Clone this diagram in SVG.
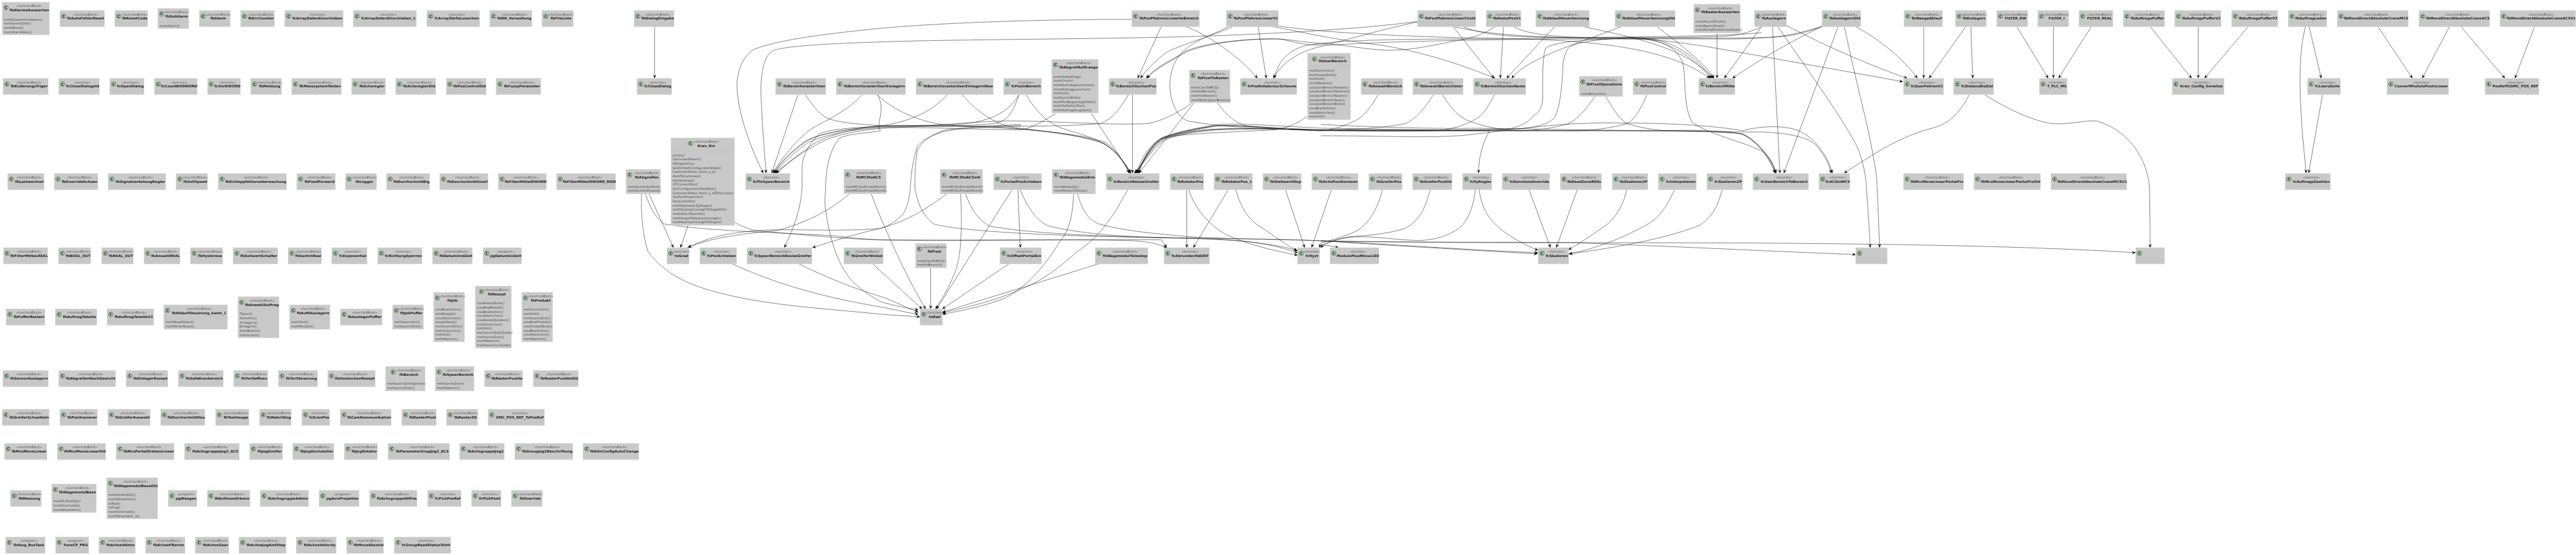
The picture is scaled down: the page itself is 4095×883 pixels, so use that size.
<svg xmlns="http://www.w3.org/2000/svg" width="4095" height="883" viewBox="0 0 4095 883">
<style>
text{font-family:"DejaVu Sans","Liberation Sans",sans-serif}
#nodes rect{fill:#c9c9c9;stroke:#dcdcdc;stroke-width:.5}
#nodes path{fill:none;stroke:#b9b9b9;stroke-width:.4}
.s{font-size:5px;font-style:italic;fill:#555;text-anchor:middle}
.n{font-size:5.6px;font-weight:bold;fill:#2a2a2a;text-anchor:middle}
.m{font-size:5px;fill:#444}
.c{fill:#add1b2;stroke:#2c5e38;stroke-width:.6}
.k{font-size:5.6px;font-weight:bold;fill:#111;text-anchor:middle}
#connectors path{fill:none;stroke:#1a1a1a;stroke-width:.55;marker-end:url(#a)}
</style>
<defs>
<marker id="a" markerUnits="userSpaceOnUse" markerWidth="7" markerHeight="7" refX="6" refY="3.5" orient="auto"><polygon points="0,.9 6,3.5 0,6.1 2.4,3.5" fill="#000"/></marker>
<g id="i"><circle class="c" cy="9" r="3.7"/><text class="k" y="11">C</text></g>
</defs>
<g id="connectors">
<path d="M1040.6 42.7V124.7"/>
<path d="M1799 30.7C1650 31 1500 36 1400 45C1330 52 1240 62 1200 78C1175 92 1170 125 1172 145C1175 190 1200 250 1213.4 275.5"/>
<path d="M2253.6 34C2170 46 2000 56 1846 59.3S1500 63 1400 66.7C1300 70 1240 74 1226.8 81.7C1212 92 1209 125 1209.8 150C1211 190 1215 240 1217.8 275.5"/>
<path d="M2253.6 35C2180 50 2130 68 2100 71.7C2060 72 2050 62 2025 61.7C1960 62 1900 72 1882 83.3C1860 97 1835 108 1822 124.5"/>
<path d="M2377 42.3C2350 60 2330 62 2305 66.7C2270 74 2240 80 2207 80C2170 79 2130 70 2100 69C2060 66 2050 62 2025 62C1960 62 1900 74 1882 85C1860 98 1835 110 1824 124.5"/>
<path d="M1960 42.3C1925 58 1880 70 1855 83C1838 95 1822 112 1813 124.5"/>
<path d="M1846 42.3L1808.5 124.5"/>
<path d="M1885 42.3C1920 55 1970 90 1999 124.5"/>
<path d="M2000 42.3L2013 124.5"/>
<path d="M2800 52C2720 60 2520 58 2400 62C2250 62 2120 62 2070 74C2040 85 2030 105 2026 124.5"/>
<path d="M2896 42C2850 56 2830 60 2760 62C2600 62 2300 60 2110 72C2060 80 2035 105 2024 124.5"/>
<path d="M1953 42.3C1925 56 1900 65 1887 76.7C1865 92 1858 120 1860 143C1863 170 1875 190 1891 193C1950 204 2030 206 2100 206.7C2200 208 2300 208 2368 208C2358 225 2350 250 2350.5 275.5"/>
<path d="M2009 40C2050 46 2090 58 2180 70C2230 76 2290 90 2377 124.5"/>
<path d="M2011 38C2060 46 2120 54 2320 60C2500 62 2640 68 2718 124.5"/>
<path d="M2325 42.3C2370 60 2420 60 2591 60C2650 60 2690 90 2720 124.5"/>
<path d="M2310 42.3L2375 124.5"/>
<path d="M2390 42.3L2385 124.5"/>
<path d="M2406 42.3C2440 62 2530 60 2600 60C2660 60 2695 90 2722 124.5"/>
<path d="M2471.5 42.3L2395 124.5"/>
<path d="M2517 42.3C2590 58 2680 75 2724 124.5"/>
<path d="M2577.7 42.3C2500 72 2430 92 2403 124.5"/>
<path d="M2634 42.3C2670 70 2710 100 2725 124.5"/>
<path d="M2729.5 52.7V124.5"/>
<path d="M2800 42.3L2741 124.5"/>
<path d="M2896.4 42C2860 60 2820 80 2754 124.5"/>
<path d="M2800 43.3C2770 56 2750 58 2725 58.3C2680 60 2630 60 2591 60C2540 62 2500 68 2493 76.7C2486 88 2484 100 2484 116.7C2482 150 2478 175 2471.5 186.7C2460 200 2430 205 2403.6 205C2300 208 2200 208 2100 208C2040 207 1970 198 1936 200C1900 204 1860 214 1846 220C1825 232 1815 252 1806 275.5"/>
<path d="M2896.4 42.3C2860 56 2840 58 2818 59.3C2740 62 2660 60 2591 61C2530 62 2470 66 2457 76.7C2452 90 2452 130 2452.6 156.7C2451 172 2446 180 2439 183C2425 200 2405 205 2386 206.7C2300 208 2200 205 2100 204C2030 200 1970 196 1936 198C1900 204 1860 212 1846 220C1826 234 1818 254 1810 275.5"/>
<path d="M2310 42.3C2370 56 2440 60 2600 62C2660 64 2720 75 2800 89.3C2880 104 2960 118 3025 130"/>
<path d="M2839 40C2880 62 2960 100 3032 124.5"/>
<path d="M2950 42.3C3000 70 3030 100 3048 124.5"/>
<path d="M3058 42.3V124.5"/>
<path d="M3125 42.3L3066.5 124.5"/>
<path d="M3133 42.3L3136 124.5"/>
<path d="M3206 42.3L3256 124.5"/>
<path d="M3264.3 42.3V124.5"/>
<path d="M3324.5 42.3L3272.5 124.5"/>
<path d="M3418 42.3L3484 124.5"/>
<path d="M3494.5 42.3V124.5"/>
<path d="M3574 42.3L3504.5 124.5"/>
<path d="M3665 42.3C3655 80 3655 130 3658 180C3660 220 3664 250 3666 275.5"/>
<path d="M3670.7 42.3L3690 124.5"/>
<path d="M3692 150.7L3670 275.5"/>
<path d="M3780 42.3L3835 124.5"/>
<path d="M3894 42.3L3850.5 124.5"/>
<path d="M3912 42.3L3982 124.5"/>
<path d="M4029 42.3L3998 124.5"/>
<path d="M2817.6 42.3L2829.5 275.5"/>
<path d="M2922 42.3L2835.7 275.5"/>
<path d="M3130.5 150.7C3115 180 3100 195 3075 203C3030 215 3000 230 2931.7 275.5"/>
<path d="M3155 150.7C3210 185 3250 197 3269 197C3300 197 3320 190 3335 193C3390 210 3415 260 3417 300C3418 350 3418 375 3418 394"/>
<path d="M2826 42.3C2880 120 2930 190 2952 233C2962 255 2967 285 2967 300C2970 340 2972 370 2973 394"/>
<path d="M2932 42.3C2950 130 2970 200 2978 250C2982 270 2984 285 2984 300C2986 340 2987 370 2988 394"/>
<path d="M1268.3 150.7L1226.8 275.5"/>
<path d="M1370.5 150.7C1340 185 1290 200 1280 213C1260 230 1240 255 1229 275.5"/>
<path d="M1505.8 150.7C1480 180 1440 195 1400 200C1350 205 1300 212 1280 225C1260 238 1240 258 1230 275.5"/>
<path d="M1620 150.7C1610 180 1600 195 1578.6 196.7C1520 202 1450 200 1400 201.7C1340 205 1290 215 1275 230C1258 242 1240 260 1231 275.5"/>
<path d="M1677.7 180.7C1660 192 1640 204 1623 206.7C1550 206 1470 202 1400 203C1350 206 1295 218 1280 230C1262 243 1244 260 1232 275.5"/>
<path d="M1793.7 150.7C1780 175 1765 192 1748 196.7C1650 205 1500 198 1400 200C1340 206 1300 222 1285 235C1268 247 1248 262 1233 275.5"/>
<path d="M1895.5 164C1870 180 1850 192 1824 196.7C1750 200 1650 190 1578.6 193C1520 196 1460 202 1422 203C1370 205 1320 215 1295 232C1270 245 1250 262 1234 275.5"/>
<path d="M1280.4 150.7C1295 172 1305 185 1320.5 190C1345 197 1375 198 1400 200C1470 202 1550 200 1601 203.3C1660 208 1730 215 1757 226.7C1775 238 1785 255 1795 275.5"/>
<path d="M1394.6 150.7C1420 175 1455 190 1489 196.7C1530 202 1570 202 1601 204C1660 208 1725 216 1755 228C1775 240 1785 256 1796 275.5"/>
<path d="M1530 150.7C1550 175 1580 198 1614 203.3C1660 208 1725 216 1755 229C1775 240 1787 258 1797 275.5"/>
<path d="M1631 150.7C1645 175 1665 195 1686 203.3C1710 211 1740 219 1757 230C1775 242 1788 258 1798 275.5"/>
<path d="M1735 180.7L1797.5 275.5"/>
<path d="M1800.4 150.7V275.5"/>
<path d="M1897.8 164L1810.7 275.5"/>
<path d="M1935.7 164C1950 185 1965 195 1980 200C2020 205 2060 206 2100 206.7C2250 206 2450 208 2636 208C2700 208 2750 210 2770 213C2795 225 2815 250 2824 275.5"/>
<path d="M2078.6 185C2060 198 2045 204 2025 206.7C1960 210 1880 212 1846 220C1828 232 1818 252 1808 275.5"/>
<path d="M2190.6 150.7C2180 170 2170 182 2158 190C2140 200 2120 206 2100 208C2030 206 1960 198 1936 200C1900 204 1860 214 1846 221C1828 234 1818 254 1809 275.5"/>
<path d="M2278.6 150.7C2265 172 2250 190 2234 196.7C2190 205 2150 206 2100 206.7C2030 204 1960 198 1936 200C1900 206 1860 216 1846 222C1828 234 1818 254 1807 275.5"/>
<path d="M2293 150.7C2305 170 2320 188 2336.6 193C2360 202 2390 207 2412.5 208C2480 208 2560 208 2636 208C2700 206 2750 208 2770 214C2795 226 2815 252 2823 275.5"/>
<path d="M2376 150.7C2365 170 2358 182 2350 186.7C2330 200 2305 207 2278.6 208C2200 210 2130 208 2060 206C2000 204 1950 204 1920 206C1880 210 1855 216 1846 222C1830 234 1820 254 1805 275.5"/>
<path d="M2535 154C2520 175 2508 190 2493 196.7C2470 204 2440 208 2412.5 208C2300 208 2200 208 2100 207C2000 204 1950 204 1920 207C1880 211 1856 218 1846 224C1830 236 1820 256 1804 275.5"/>
<path d="M2553 154C2565 175 2575 190 2586.6 196.7C2610 204 2635 208 2658 208C2700 209 2750 210 2770 213C2796 226 2812 252 2822 275.5"/>
<path d="M2618 150.7C2608 175 2598 190 2586.6 196.7C2560 204 2530 208 2502 208C2400 208 2200 208 2100 207C2000 204 1950 205 1920 208C1880 212 1858 219 1848 225C1832 237 1822 256 1803 275.5"/>
<path d="M2100 216C2200 216 2280 220 2330 215C2420 205 2490 193 2580 196C2660 195 2740 202 2770 208C2800 200 2830 200 2850 205C2880 212 2905 245 2913 275.5"/>
<path d="M2100 198C2200 203 2280 205 2350 204C2500 206 2700 210 2800 210C2850 212 2880 220 2890 235C2902 250 2908 262 2911 275.5"/>
<path d="M2591 60C2650 62 2670 80 2676 105C2680 130 2676 170 2690 195C2720 215 2770 225 2800 240C2815 250 2820 262 2822 275.5"/>
<path d="M1620 150.7C1600 185 1560 198 1500 199C1440 200 1330 200 1302.6 213C1285 230 1275 250 1275 266.7C1275 280 1275 290 1275 300C1272 340 1258 370 1246.9 394"/>
<path d="M1394.6 150.7C1410 175 1390 200 1400 208C1380 212 1350 212 1334 220C1318 240 1312.5 270 1312.5 300C1311 320 1311 325 1312.5 333C1320 395 1340 435 1360.7 453C1375 466 1390 474 1400 480C1420 486 1440 490 1460 493"/>
<path d="M1623 200C1570 202 1520 204 1498 210C1475 218 1465 224 1458 233C1450 260 1448 280 1447 300C1445 320 1442 330 1436 340C1425 352 1412 360 1400 363.3C1360 372 1320 385 1291.5 394"/>
<path d="M1623 198C1570 200 1530 203 1503 206.7C1480 214 1465 225 1458 240C1455 260 1454 280 1454.5 300C1460 330 1470 345 1485 356.7C1540 370 1700 376 1846 378C1950 380 2030 380 2100 383C2200 390 2340 398 2444 404"/>
<path d="M1350.4 308.3C1320 335 1280 355 1235.7 366.7C1180 372 1130 378 1092.9 394"/>
<path d="M1505 308.3C1470 335 1440 352 1400 363.3C1330 370 1240 362 1191 368C1150 372 1120 380 1094 394"/>
<path d="M1025.9 308.3C1035 335 1045 350 1057 356.7C1130 368 1240 370 1325 375C1350 378 1380 381 1400 381.7C1550 383 1750 380 1846 381.7L1855 394"/>
<path d="M1167.8 353.3C1178 360 1190 364 1200 366.7C1280 374 1340 380 1400 381.7C1550 384 1720 380 1800 383C1825 384 1840 388 1855 394"/>
<path d="M1031.7 308.3L1070.5 394"/>
<path d="M1093.7 358.7L1081.7 394"/>
<path d="M1020 308.3C1018 350 1025 385 1030 400C1060 440 1100 455 1146.4 466.7C1230 488 1330 492 1400 500C1430 502 1445 503 1462.5 504"/>
<path d="M1163 419.3C1240 455 1320 475 1400 488.3C1425 493 1440 497 1460 500"/>
<path d="M1269 419.3C1310 440 1360 460 1400 471.7C1425 480 1440 490 1460 496.7"/>
<path d="M1386.6 419.3L1466 491.7"/>
<path d="M1479.5 426.7V491.5"/>
<path d="M1385 308.3C1400 350 1440 440 1471.4 491.5"/>
<path d="M1527 308.3C1530 360 1528 410 1518 433C1510 455 1498 475 1487 491.5"/>
<path d="M1610 300L1489 491.5"/>
<path d="M1618 300L1622 394"/>
<path d="M1534.8 308.3C1545 335 1555 350 1574 360C1640 372 1760 376 1846 378.3C1930 380 2000 382 2062 398"/>
<path d="M1621 300C1635 335 1650 352 1668 360C1730 374 1790 376 1846 378C1960 380 2000 382 2063 402"/>
<path d="M1706.7 308.3C1705 345 1700 365 1685.7 383C1660 425 1630 460 1592 476.7C1560 488 1525 495 1498 500"/>
<path d="M1713 308.3C1720 335 1730 350 1748 356.7C1790 368 1840 372 1891 376.7C1950 380 2000 380 2100 383C2200 388 2340 398 2445 402"/>
<path d="M1793.7 300C1770 345 1745 380 1712.5 400C1680 430 1650 450 1623 460C1580 480 1530 490 1498 498"/>
<path d="M1604.5 419.3L1498 491.5"/>
<path d="M1748 419.3L1498 496.7"/>
<path d="M1886.6 300V394"/>
<path d="M1889 300C1900 335 1925 360 1949 373C1985 390 2030 400 2063 406"/>
<path d="M1953.5 300L1897 394"/>
<path d="M1963.8 300C1972 330 1985 350 2002.6 360C2025 375 2045 390 2062.5 399.3"/>
<path d="M2042.8 300L2074 394"/>
<path d="M2117 300L2085 394"/>
<path d="M2198 300C2190 335 2175 355 2158 366.7C2140 376 2115 382 2100 386.7L2097 394"/>
<path d="M2274 300C2265 335 2255 352 2234 363C2210 372 2170 375 2145 376.7C2125 380 2110 385 2099 394"/>
<path d="M2345.5 300C2342 335 2330 358 2314 366.7C2295 378 2275 382 2256 382.7C2220 382 2190 376 2158 376.7C2130 378 2115 385 2100 390C2110 390 2120 392 2127.7 394" />
<path d="M2351 300C2355 330 2365 345 2377 356.7C2395 375 2425 390 2445 398.3"/>
<path d="M2430 300L2464.7 394"/>
<path d="M2508 300L2474 394"/>
<path d="M2586.6 300C2580 330 2565 352 2546 363C2525 378 2510 388 2493 397.3"/>
<path d="M2662.5 300C2650 330 2635 350 2613 360C2580 378 2540 395 2494 404"/>
<path d="M2738 300C2730 335 2715 352 2698 360C2640 382 2560 395 2494 404"/>
<path d="M2100 383C2250 386 2400 386 2502 386C2600 390 2700 394 2800 398.7C2850 401 2900 403 2950 405"/>
<path d="M2100 384C2300 386 2600 386 2800 386.7C2950 388 3200 390 3395 402"/>
</g>
<g id="nodes">
<g id="fbAlarmeAuswerten" transform="translate(3.6 3.3)"><rect width="75" height="52.3"/><path d="M0 19H75M0 22.3H75"/><use href="#i" x="6"/><text class="s" x="43" y="8">«functionBlock»</text><text class="n" x="43" y="14.7">fbAlarmeAuswerten</text><text class="m" x="2.7" y="29.3">methZusammenfassen()</text><text class="m" x="2.7" y="36">methLeereZeile()</text><text class="m" x="2.7" y="42.6">methReset()</text><text class="m" x="2.7" y="49.3">methAlarmAktiv()</text></g>
<g id="fbAutoFehlerReset" transform="translate(95.1 16.7)"><rect width="71" height="26"/><path d="M0 18.3H71M0 21.7H71"/><use href="#i" x="6"/><text class="s" x="41" y="8">«functionBlock»</text><text class="n" x="41" y="14.7">fbAutoFehlerReset</text></g>
<g id="fbResetCode" transform="translate(182.6 16.7)"><rect width="52.2" height="26"/><path d="M0 18.3H52.2M0 21.7H52.2"/><use href="#i" x="6"/><text class="s" x="31.6" y="8">«functionBlock»</text><text class="n" x="31.6" y="14.7">fbResetCode</text></g>
<g id="fbSetAlarm" transform="translate(250.9 13.3)"><rect width="49.1" height="32.3"/><path d="M0 19H49.1M0 22.3H49.1"/><use href="#i" x="6"/><text class="s" x="30" y="8">«functionBlock»</text><text class="n" x="30" y="14.7">fbSetAlarm</text><text class="m" x="2.7" y="29.3">methAlarm()</text></g>
<g id="fbAlarm" transform="translate(316.9 16.7)"><rect width="49.1" height="26"/><path d="M0 18.3H49.1M0 21.7H49.1"/><use href="#i" x="6"/><text class="s" x="30" y="8">«functionBlock»</text><text class="n" x="30" y="14.7">fbAlarm</text></g>
<g id="fbErrCounter" transform="translate(382.6 16.7)"><rect width="53.6" height="26"/><path d="M0 18.3H53.6M0 21.7H53.6"/><use href="#i" x="6"/><text class="s" x="32.3" y="8">«functionBlock»</text><text class="n" x="32.3" y="14.7">fbErrCounter</text></g>
<g id="fcArrayDatenEinschieben" transform="translate(452.7 16.7)"><rect width="92.9" height="26"/><path d="M0 18.3H92.9M0 21.7H92.9"/><use href="#i" x="6"/><text class="s" x="52" y="8">«function»</text><text class="n" x="52" y="14.7">fcArrayDatenEinschieben</text></g>
<g id="fcArrayDatenEinschieben_1" transform="translate(561.6 16.7)"><rect width="100.4" height="26"/><path d="M0 18.3H100.4M0 21.7H100.4"/><use href="#i" x="6"/><text class="s" x="55.7" y="8">«function»</text><text class="n" x="55.7" y="14.7">fcArrayDatenEinschieben_1</text></g>
<g id="fcArrayStelleLoeschen" transform="translate(678.6 16.7)"><rect width="83.9" height="26"/><path d="M0 18.3H83.9M0 21.7H83.9"/><use href="#i" x="6"/><text class="s" x="47.5" y="8">«function»</text><text class="n" x="47.5" y="14.7">fcArrayStelleLoeschen</text></g>
<g id="fbRN_Verwaltung" transform="translate(778.6 16.7)"><rect width="67" height="26"/><path d="M0 18.3H67M0 21.7H67"/><use href="#i" x="6"/><text class="s" x="39" y="8">«functionBlock»</text><text class="n" x="39" y="14.7">fbRN_Verwaltung</text></g>
<g id="fbFileListe" transform="translate(861.6 16.7)"><rect width="49.6" height="26"/><path d="M0 18.3H49.6M0 21.7H49.6"/><use href="#i" x="6"/><text class="s" x="30.3" y="8">«functionBlock»</text><text class="n" x="30.3" y="14.7">fbFileListe</text></g>
<g id="fbDialogEingabe" transform="translate(1008 16.7)"><rect width="63.8" height="26"/><path d="M0 18.3H63.8M0 21.7H63.8"/><use href="#i" x="6"/><text class="s" x="37.4" y="8">«functionBlock»</text><text class="n" x="37.4" y="14.7">fbDialogEingabe</text></g>
<g id="fbPzuPfahrenLinearImBereich" transform="translate(1799.1 16.7)"><rect width="107.6" height="26"/><path d="M0 18.3H107.6M0 21.7H107.6"/><use href="#i" x="6"/><text class="s" x="59.3" y="8">«functionBlock»</text><text class="n" x="59.3" y="14.7">fbPzuPfahrenLinearImBereich</text></g>
<g id="fbPzuPfahrenLinearV1" transform="translate(1949.5 16.7)"><rect width="82.6" height="26"/><path d="M0 18.3H82.6M0 21.7H82.6"/><use href="#i" x="6"/><text class="s" x="46.8" y="8">«functionBlock»</text><text class="n" x="46.8" y="14.7">fbPzuPfahrenLinearV1</text></g>
<g id="fbPzuPfahrenLinearV1old" transform="translate(2253.6 16.7)"><rect width="92.4" height="26"/><path d="M0 18.3H92.4M0 21.7H92.4"/><use href="#i" x="6"/><text class="s" x="51.7" y="8">«functionBlock»</text><text class="n" x="51.7" y="14.7">fbPzuPfahrenLinearV1old</text></g>
<g id="fbHomePosV1" transform="translate(2362.5 16.7)"><rect width="55.4" height="26"/><path d="M0 18.3H55.4M0 21.7H55.4"/><use href="#i" x="6"/><text class="s" x="33.2" y="8">«functionBlock»</text><text class="n" x="33.2" y="14.7">fbHomePosV1</text></g>
<g id="fbAblaufHeuerkennung" transform="translate(2441.5 16.7)"><rect width="84.8" height="26"/><path d="M0 18.3H84.8M0 21.7H84.8"/><use href="#i" x="6"/><text class="s" x="47.9" y="8">«functionBlock»</text><text class="n" x="47.9" y="14.7">fbAblaufHeuerkennung</text></g>
<g id="fbAblaufHeuerkennungOld" transform="translate(2567.4 16.7)"><rect width="95.5" height="26"/><path d="M0 18.3H95.5M0 21.7H95.5"/><use href="#i" x="6"/><text class="s" x="53.3" y="8">«functionBlock»</text><text class="n" x="53.3" y="14.7">fbAblaufHeuerkennungOld</text></g>
<g id="fbRasterAuswerten" transform="translate(2692.4 6.7)"><rect width="74.1" height="45.6"/><path d="M0 19H74.1M0 22.3H74.1"/><use href="#i" x="6"/><text class="s" x="42.5" y="8">«functionBlock»</text><text class="n" x="42.5" y="14.7">fbRasterAuswerten</text><text class="m" x="2.7" y="29.3">methHochstPunkt()</text><text class="m" x="2.7" y="36">methRasterDelet()</text><text class="m" x="2.7" y="42.6">methPortalPosHoechstPunkt()</text></g>
<g id="fbAuslagern" transform="translate(2789 16.7)"><rect width="51" height="26"/><path d="M0 18.3H51M0 21.7H51"/><use href="#i" x="6"/><text class="s" x="31" y="8">«functionBlock»</text><text class="n" x="31" y="14.7">fbAuslagern</text></g>
<g id="fbAuslagernOld" transform="translate(2896.4 16.7)"><rect width="61.6" height="26"/><path d="M0 18.3H61.6M0 21.7H61.6"/><use href="#i" x="6"/><text class="s" x="36.3" y="8">«functionBlock»</text><text class="n" x="36.3" y="14.7">fbAuslagernOld</text></g>
<g id="fbWaegeAblauf" transform="translate(3026.8 16.7)"><rect width="61.2" height="26"/><path d="M0 18.3H61.2M0 21.7H61.2"/><use href="#i" x="6"/><text class="s" x="36" y="8">«functionBlock»</text><text class="n" x="36" y="14.7">fbWaegeAblauf</text></g>
<g id="fbEinlagern" transform="translate(3108.5 16.7)"><rect width="49.1" height="26"/><path d="M0 18.3H49.1M0 21.7H49.1"/><use href="#i" x="6"/><text class="s" x="30" y="8">«functionBlock»</text><text class="n" x="30" y="14.7">fbEinlagern</text></g>
<g id="FILTER_DW" transform="translate(3174.1 16.7)"><rect width="49.1" height="26"/><path d="M0 18.3H49.1M0 21.7H49.1"/><use href="#i" x="6"/><text class="s" x="30" y="8">«functionBlock»</text><text class="n" x="30" y="14.7">FILTER_DW</text></g>
<g id="FILTER_I" transform="translate(3239.3 16.7)"><rect width="49.1" height="26"/><path d="M0 18.3H49.1M0 21.7H49.1"/><use href="#i" x="6"/><text class="s" x="30" y="8">«functionBlock»</text><text class="n" x="30" y="14.7">FILTER_I</text></g>
<g id="FILTER_REAL" transform="translate(3304.9 16.7)"><rect width="54" height="26"/><path d="M0 18.3H54M0 21.7H54"/><use href="#i" x="6"/><text class="s" x="32.5" y="8">«functionBlock»</text><text class="n" x="32.5" y="14.7">FILTER_REAL</text></g>
<g id="fbAuftragsPuffer" transform="translate(3375.4 16.7)"><rect width="65.6" height="26"/><path d="M0 18.3H65.6M0 21.7H65.6"/><use href="#i" x="6"/><text class="s" x="38.3" y="8">«functionBlock»</text><text class="n" x="38.3" y="14.7">fbAuftragsPuffer</text></g>
<g id="fbAuftragsPufferV2" transform="translate(3457.1 16.7)"><rect width="73.7" height="26"/><path d="M0 18.3H73.7M0 21.7H73.7"/><use href="#i" x="6"/><text class="s" x="42.3" y="8">«functionBlock»</text><text class="n" x="42.3" y="14.7">fbAuftragsPufferV2</text></g>
<g id="fbAuftragsPufferV3" transform="translate(3547.5 16.7)"><rect width="73.4" height="26"/><path d="M0 18.3H73.4M0 21.7H73.4"/><use href="#i" x="6"/><text class="s" x="42.2" y="8">«functionBlock»</text><text class="n" x="42.2" y="14.7">fbAuftragsPufferV3</text></g>
<g id="fbAuftragLaden" transform="translate(3637.6 16.7)"><rect width="61.2" height="26"/><path d="M0 18.3H61.2M0 21.7H61.2"/><use href="#i" x="6"/><text class="s" x="36" y="8">«functionBlock»</text><text class="n" x="36" y="14.7">fbAuftragLaden</text></g>
<g id="fbMoveDirectAbsoluteCraneMCS" transform="translate(3715.6 16.7)"><rect width="112.5" height="26"/><path d="M0 18.3H112.5M0 21.7H112.5"/><use href="#i" x="6"/><text class="s" x="61.8" y="8">«functionBlock»</text><text class="n" x="61.8" y="14.7">fbMoveDirectAbsoluteCraneMCS</text></g>
<g id="fbMoveDirectAbsoluteCraneACS" transform="translate(3845.3 16.7)"><rect width="112.5" height="26"/><path d="M0 18.3H112.5M0 21.7H112.5"/><use href="#i" x="6"/><text class="s" x="61.8" y="8">«functionBlock»</text><text class="n" x="61.8" y="14.7">fbMoveDirectAbsoluteCraneACS</text></g>
<g id="fbMoveDirectAbsoluteCraneACSV1" transform="translate(3974.1 16.7)"><rect width="120.2" height="26"/><path d="M0 18.3H120.2M0 21.7H120.2"/><use href="#i" x="6"/><text class="s" x="65.6" y="8">«functionBlock»</text><text class="n" x="65.6" y="14.7">fbMoveDirectAbsoluteCraneACSV1</text></g>

<g id="fbEnderungsTriger" transform="translate(4.9 124.7)"><rect width="71.9" height="26"/><path d="M0 18.3H71.9M0 21.7H71.9"/><use href="#i" x="6"/><text class="s" x="41.5" y="8">«functionBlock»</text><text class="n" x="41.5" y="14.7">fbEnderungsTriger</text></g>
<g id="fcCloseDialogold" transform="translate(93.3 124.7)"><rect width="64.7" height="26"/><path d="M0 18.3H64.7M0 21.7H64.7"/><use href="#i" x="6"/><text class="s" x="37.9" y="8">«function»</text><text class="n" x="37.9" y="14.7">fcCloseDialogold</text></g>
<g id="fcOpenDialog" transform="translate(174.5 124.7)"><rect width="54.5" height="26"/><path d="M0 18.3H54.5M0 21.7H54.5"/><use href="#i" x="6"/><text class="s" x="32.7" y="8">«function»</text><text class="n" x="32.7" y="14.7">fcOpenDialog</text></g>
<g id="fcCountBitDWORD" transform="translate(245.5 124.7)"><rect width="67.9" height="26"/><path d="M0 18.3H67.9M0 21.7H67.9"/><use href="#i" x="6"/><text class="s" x="39.4" y="8">«function»</text><text class="n" x="39.4" y="14.7">fcCountBitDWORD</text></g>
<g id="fcXorDWORD" transform="translate(329.9 124.7)"><rect width="52.2" height="26"/><path d="M0 18.3H52.2M0 21.7H52.2"/><use href="#i" x="6"/><text class="s" x="31.6" y="8">«function»</text><text class="n" x="31.6" y="14.7">fcXorDWORD</text></g>
<g id="fbMeldung" transform="translate(398.6 124.7)"><rect width="49.1" height="26"/><path d="M0 18.3H49.1M0 21.7H49.1"/><use href="#i" x="6"/><text class="s" x="30" y="8">«functionBlock»</text><text class="n" x="30" y="14.7">fbMeldung</text></g>
<g id="fbMesssystemTesten" transform="translate(463.8 124.7)"><rect width="79" height="26"/><path d="M0 18.3H79M0 21.7H79"/><use href="#i" x="6"/><text class="s" x="45" y="8">«functionBlock»</text><text class="n" x="45" y="14.7">fbMesssystemTesten</text></g>
<g id="fbAchsregler" transform="translate(558.9 124.7)"><rect width="54" height="26"/><path d="M0 18.3H54M0 21.7H54"/><use href="#i" x="6"/><text class="s" x="32.5" y="8">«functionBlock»</text><text class="n" x="32.5" y="14.7">fbAchsregler</text></g>
<g id="fbAchsreglerOld" transform="translate(629 124.7)"><rect width="63.8" height="26"/><path d="M0 18.3H63.8M0 21.7H63.8"/><use href="#i" x="6"/><text class="s" x="37.4" y="8">«functionBlock»</text><text class="n" x="37.4" y="14.7">fbAchsreglerOld</text></g>
<g id="fbPosControlOld" transform="translate(709.4 124.7)"><rect width="63.4" height="26"/><path d="M0 18.3H63.4M0 21.7H63.4"/><use href="#i" x="6"/><text class="s" x="37.2" y="8">«functionBlock»</text><text class="n" x="37.2" y="14.7">fbPosControlOld</text></g>
<g id="fbFuzzyParameter" transform="translate(788.8 124.7)"><rect width="71" height="26"/><path d="M0 18.3H71M0 21.7H71"/><use href="#i" x="6"/><text class="s" x="41" y="8">«functionBlock»</text><text class="n" x="41" y="14.7">fbFuzzyParameter</text></g>
<g id="fcCloseDialog" transform="translate(1012.5 124.7)"><rect width="55.4" height="26"/><path d="M0 18.3H55.4M0 21.7H55.4"/><use href="#i" x="6"/><text class="s" x="33.2" y="8">«function»</text><text class="n" x="33.2" y="14.7">fcCloseDialog</text></g>
<g id="fbBereichsrasterUser" transform="translate(1233 124.7)"><rect width="79.9" height="26"/><path d="M0 18.3H79.9M0 21.7H79.9"/><use href="#i" x="6"/><text class="s" x="45.5" y="8">«functionBlock»</text><text class="n" x="45.5" y="14.7">fbBereichsrasterUser</text></g>
<g id="fbBereichsrasterUserEinlagern" transform="translate(1329.4 124.7)"><rect width="110.3" height="26"/><path d="M0 18.3H110.3M0 21.7H110.3"/><use href="#i" x="6"/><text class="s" x="60.6" y="8">«functionBlock»</text><text class="n" x="60.6" y="14.7">fbBereichsrasterUserEinlagern</text></g>
<g id="fbBereichsrasterUserEinlagernNew" transform="translate(1456.2 124.7)"><rect width="122.8" height="26"/><path d="M0 18.3H122.8M0 21.7H122.8"/><use href="#i" x="6"/><text class="s" x="66.9" y="8">«functionBlock»</text><text class="n" x="66.9" y="14.7">fbBereichsrasterUserEinlagernNew</text></g>
<g id="fcPosInBereich" transform="translate(1595.5 124.7)"><rect width="60.3" height="26"/><path d="M0 18.3H60.3M0 21.7H60.3"/><use href="#i" x="6"/><text class="s" x="35.6" y="8">«function»</text><text class="n" x="35.6" y="14.7">fcPosInBereich</text></g>
<g id="fbAbgreifAuftraege" transform="translate(1671.9 94.3)"><rect width="74.1" height="85.6"/><path d="M0 19H74.1M0 22.3H74.1"/><use href="#i" x="6"/><text class="s" x="42.5" y="8">«functionBlock»</text><text class="n" x="42.5" y="14.7">fbAbgreifAuftraege</text><text class="m" x="2.7" y="29.3">methSetAuftrag()</text><text class="m" x="2.7" y="36">methCount()</text><text class="m" x="2.7" y="42.6">methAuftraegeLoeschen()</text><text class="m" x="2.7" y="49.3">methAuftragLoeschen()</text><text class="m" x="2.7" y="56">methInit()</text><text class="m" x="2.7" y="62.6">methLeereZeile()</text><text class="m" x="2.7" y="69.3">methPosBegrenzugOffset()</text><text class="m" x="2.7" y="76">methPufferSortPos()</text><text class="m" x="2.7" y="82.6">methAuftragAusgeben()</text></g>
<g id="fcBereichSuchenPos" transform="translate(1762.9 124.7)"><rect width="75.4" height="26"/><path d="M0 18.3H75.4M0 21.7H75.4"/><use href="#i" x="6"/><text class="s" x="43.2" y="8">«function»</text><text class="n" x="43.2" y="14.7">fcBereichSuchenPos</text></g>
<g id="fbPixelToRaster" transform="translate(1890.6 111.3)"><rect width="64.7" height="52.3"/><path d="M0 19H64.7M0 22.3H64.7"/><use href="#i" x="6"/><text class="s" x="37.9" y="8">«functionBlock»</text><text class="n" x="37.9" y="14.7">fbPixelToRaster</text><text class="m" x="2.7" y="29.3">methCamToMCS()</text><text class="m" x="2.7" y="36">methInBereich()</text><text class="m" x="2.7" y="42.6">methInitRaster()</text><text class="m" x="2.7" y="49.3">methNotInSpeerBereich()</text></g>
<g id="fcPosRotatorzurScheune" transform="translate(1971.8 124.7)"><rect width="89.7" height="26"/><path d="M0 18.3H89.7M0 21.7H89.7"/><use href="#i" x="6"/><text class="s" x="50.4" y="8">«function»</text><text class="n" x="50.4" y="14.7">fcPosRotatorzurScheune</text></g>
<g id="fbUserBereich" transform="translate(2078.6 84.7)"><rect width="68.4" height="105.6"/><path d="M0 19H68.4M0 22.3H68.4"/><use href="#i" x="11"/><text class="s" x="39.7" y="8">«functionBlock»</text><text class="n" x="39.7" y="14.7">fbUserBereich</text><text class="m" x="2.7" y="29.3">methLoeschen()</text><text class="m" x="2.7" y="36">methLeereZeile()</text><text class="m" x="2.7" y="42.6">methInit()</text><text class="m" x="2.7" y="49.3">methNamein()</text><text class="m" x="2.7" y="56">visuUserBereichAnwahl()</text><text class="m" x="2.7" y="62.6">visuUserBereichGroesse()</text><text class="m" x="2.7" y="69.3">visuUserBereichRaster()</text><text class="m" x="2.7" y="76">visuUserBereichSave()</text><text class="m" x="2.7" y="82.6">visuUserBereichEnde()</text><text class="m" x="2.7" y="89.3">visuBearbeiten()</text><text class="m" x="2.7" y="96">visuAbbrechen()</text><text class="m" x="2.7" y="102.6">methInit()</text></g>
<g id="fbAnwahlBereich" transform="translate(2163.8 124.7)"><rect width="66.1" height="26"/><path d="M0 18.3H66.1M0 21.7H66.1"/><use href="#i" x="6"/><text class="s" x="38.5" y="8">«functionBlock»</text><text class="n" x="38.5" y="14.7">fbAnwahlBereich</text></g>
<g id="fbAnwahlBereichUser" transform="translate(2246 124.7)"><rect width="79.9" height="26"/><path d="M0 18.3H79.9M0 21.7H79.9"/><use href="#i" x="6"/><text class="s" x="45.5" y="8">«functionBlock»</text><text class="n" x="45.5" y="14.7">fbAnwahlBereichUser</text></g>
<g id="fcBereichSuchenName" transform="translate(2342.4 124.7)"><rect width="83" height="26"/><path d="M0 18.3H83M0 21.7H83"/><use href="#i" x="6"/><text class="s" x="47" y="8">«function»</text><text class="n" x="47" y="14.7">fcBereichSuchenName</text></g>
<g id="fbPixelOperations" transform="translate(2510.2 121.3)"><rect width="69.2" height="32.3"/><path d="M0 19H69.2M0 22.3H69.2"/><use href="#i" x="6"/><text class="s" x="40" y="8">«functionBlock»</text><text class="n" x="40" y="14.7">fbPixelOperations</text><text class="m" x="2.7" y="29.3">methBereichIo()</text></g>
<g id="fbPosControl" transform="translate(2596 124.7)"><rect width="53.1" height="26"/><path d="M0 18.3H53.1M0 21.7H53.1"/><use href="#i" x="6"/><text class="s" x="32" y="8">«functionBlock»</text><text class="n" x="32" y="14.7">fbPosControl</text></g>
<g id="fcBereichMitte" transform="translate(2700.4 124.7)"><rect width="57.6" height="26"/><path d="M0 18.3H57.6M0 21.7H57.6"/><use href="#i" x="6"/><text class="s" x="34.3" y="8">«function»</text><text class="n" x="34.3" y="14.7">fcBereichMitte</text></g>
<g id="fcQuerFahrenV1" transform="translate(3025.9 124.7)"><rect width="63.8" height="26"/><path d="M0 18.3H63.8M0 21.7H63.8"/><use href="#i" x="6"/><text class="s" x="37.4" y="8">«function»</text><text class="n" x="37.4" y="14.7">fcQuerFahrenV1</text></g>
<g id="fcDistanzBisZiel" transform="translate(3105.8 124.7)"><rect width="63.4" height="26"/><path d="M0 18.3H63.4M0 21.7H63.4"/><use href="#i" x="6"/><text class="s" x="37.2" y="8">«function»</text><text class="n" x="37.2" y="14.7">fcDistanzBisZiel</text></g>
<g id="T_PLC_MS" transform="translate(3242 124.7)"><rect width="44.2" height="26"/><path d="M0 18.3H44.2M0 21.7H44.2"/><use href="#i" x="6"/><text class="s" x="27.6" y="8">«function»</text><text class="n" x="27.6" y="14.7">T_PLC_MS</text></g>
<g id="Kran_Config_Serialize" transform="translate(3453.1 124.7)"><rect width="82.3" height="26"/><path d="M0 18.3H82.3M0 21.7H82.3"/><use href="#i" x="6"/><text class="s" x="46.6" y="8">«function»</text><text class="n" x="46.6" y="14.7">Kran_Config_Serialize</text></g>
<g id="fcLeereZeile" transform="translate(3668.1 124.7)"><rect width="52.5" height="26"/><path d="M0 18.3H52.5M0 21.7H52.5"/><use href="#i" x="6"/><text class="s" x="31.7" y="8">«function»</text><text class="n" x="31.7" y="14.7">fcLeereZeile</text></g>
<g id="ConvertModuloPosInLinear" transform="translate(3794.7 124.7)"><rect width="97.7" height="26"/><path d="M0 18.3H97.7M0 21.7H97.7"/><use href="#i" x="6"/><text class="s" x="54.4" y="8">«function»</text><text class="n" x="54.4" y="14.7">ConvertModuloPosInLinear</text></g>
<g id="PosRefToSMC_POS_REF" transform="translate(3950.2 124.7)"><rect width="85.9" height="26"/><path d="M0 18.3H85.9M0 21.7H85.9"/><use href="#i" x="6"/><text class="s" x="48.5" y="8">«function»</text><text class="n" x="48.5" y="14.7">PosRefToSMC_POS_REF</text></g>

<g id="fbLastwechsel" transform="translate(12.1 276)"><rect width="58" height="26"/><path d="M0 18.3H58M0 21.7H58"/><use href="#i" x="6"/><text class="s" x="34.5" y="8">«functionBlock»</text><text class="n" x="34.5" y="14.7">fbLastwechsel</text></g>
<g id="fbOverrideAchsen" transform="translate(86.2 276)"><rect width="69.6" height="26"/><path d="M0 18.3H69.6M0 21.7H69.6"/><use href="#i" x="6"/><text class="s" x="40.3" y="8">«functionBlock»</text><text class="n" x="40.3" y="14.7">fbOverrideAchsen</text></g>
<g id="fbSignalverketungRegler" transform="translate(171.9 276)"><rect width="91.5" height="26"/><path d="M0 18.3H91.5M0 21.7H91.5"/><use href="#i" x="6"/><text class="s" x="51.3" y="8">«functionBlock»</text><text class="n" x="51.3" y="14.7">fbSignalverketungRegler</text></g>
<g id="fbSollSpeed" transform="translate(279.9 276)"><rect width="50" height="26"/><path d="M0 18.3H50M0 21.7H50"/><use href="#i" x="6"/><text class="s" x="30.5" y="8">«functionBlock»</text><text class="n" x="30.5" y="14.7">fbSollSpeed</text></g>
<g id="fbSchleppfehlerueberwachung" transform="translate(346.9 276)"><rect width="108.5" height="26"/><path d="M0 18.3H108.5M0 21.7H108.5"/><use href="#i" x="6"/><text class="s" x="59.8" y="8">«functionBlock»</text><text class="n" x="59.8" y="14.7">fbSchleppfehlerueberwachung</text></g>
<g id="fbFeedForward" transform="translate(471.9 276)"><rect width="61.2" height="26"/><path d="M0 18.3H61.2M0 21.7H61.2"/><use href="#i" x="6"/><text class="s" x="36" y="8">«functionBlock»</text><text class="n" x="36" y="14.7">fbFeedForward</text></g>
<g id="fbLogger" transform="translate(549.1 276)"><rect width="49.6" height="26"/><path d="M0 18.3H49.6M0 21.7H49.6"/><use href="#i" x="6"/><text class="s" x="30.3" y="8">«functionBlock»</text><text class="n" x="30.3" y="14.7">fbLogger</text></g>
<g id="fbDurchschnittBig" transform="translate(614.3 276)"><rect width="68.7" height="26"/><path d="M0 18.3H68.7M0 21.7H68.7"/><use href="#i" x="6"/><text class="s" x="39.9" y="8">«functionBlock»</text><text class="n" x="39.9" y="14.7">fbDurchschnittBig</text></g>
<g id="fbDurchschnittSmall" transform="translate(699 276)"><rect width="76.9" height="26"/><path d="M0 18.3H76.9M0 21.7H76.9"/><use href="#i" x="6"/><text class="s" x="44" y="8">«functionBlock»</text><text class="n" x="44" y="14.7">fbDurchschnittSmall</text></g>
<g id="fbFilterMittelDWORD" transform="translate(792 276)"><rect width="76.3" height="26"/><path d="M0 18.3H76.3M0 21.7H76.3"/><use href="#i" x="6"/><text class="s" x="43.7" y="8">«functionBlock»</text><text class="n" x="43.7" y="14.7">fbFilterMittelDWORD</text></g>
<g id="fbFilterMittelDWORD_MOD" transform="translate(884.8 276)"><rect width="93.7" height="26"/><path d="M0 18.3H93.7M0 21.7H93.7"/><use href="#i" x="6"/><text class="s" x="52.4" y="8">«functionBlock»</text><text class="n" x="52.4" y="14.7">fbFilterMittelDWORD_MOD</text></g>
<g id="fbAbgreifen" transform="translate(995.1 269.3)"><rect width="54.9" height="39"/><path d="M0 19H54.9M0 22.3H54.9"/><use href="#i" x="6"/><text class="s" x="33" y="8">«functionBlock»</text><text class="n" x="33" y="14.7">fbAbgreifen</text><text class="m" x="2.7" y="29.3">methGreiferSollPos()</text><text class="m" x="2.7" y="36">methGreiferDistanz()</text></g>
<g id="Kran_Kin" transform="translate(1066.5 219.3)"><rect width="101.3" height="139.4"/><path d="M0 19H101.3M0 22.3H101.3"/><use href="#i" x="31"/><text class="s" x="56.2" y="8">«functionBlock»</text><text class="n" x="56.2" y="14.7">Kran_Kin</text><text class="m" x="2.7" y="29.3">Limits()</text><text class="m" x="2.7" y="36">CartesianToAxes()</text><text class="m" x="2.7" y="42.6">IsSingularity()</text><text class="m" x="2.7" y="49.3">GetDefaultConfigurationData()</text><text class="m" x="2.7" y="56">CartesianToAxis_fixed_x_y()</text><text class="m" x="2.7" y="62.6">AxesToCartesian()</text><text class="m" x="2.7" y="69.3">AxisSettings()</text><text class="m" x="2.7" y="76">CPConnectible()</text><text class="m" x="2.7" y="82.6">GetConfigurationDataSize()</text><text class="m" x="2.7" y="89.3">CartesianToAxis_fixed_y_a3Telescope()</text><text class="m" x="2.7" y="96">GetAxisProperties()</text><text class="m" x="2.7" y="102.6">AxisLimitsOk()</text><text class="m" x="2.7" y="109.3">methHydraulicZylAngle()</text><text class="m" x="2.7" y="116">methHydraulicLengthToAngleOld()</text><text class="m" x="2.7" y="122.6">methZmcsToLenA3()</text><text class="m" x="2.7" y="129.3">methAngleToHydraulicLength()</text><text class="m" x="2.7" y="136">methHydraulicLengthToAngle()</text></g>
<g id="fcPInSpeerBereich" transform="translate(1185.2 276)"><rect width="70.5" height="26"/><path d="M0 18.3H70.5M0 21.7H70.5"/><use href="#i" x="6"/><text class="s" x="40.8" y="8">«function»</text><text class="n" x="40.8" y="14.7">fcPInSpeerBereich</text></g>
<g id="fbMCStoACS" transform="translate(1341.5 269.3)"><rect width="67.4" height="39"/><path d="M0 19H67.4M0 22.3H67.4"/><use href="#i" x="6"/><text class="s" x="39.2" y="8">«functionBlock»</text><text class="n" x="39.2" y="14.7">fbMCStoACS</text><text class="m" x="2.7" y="29.3">methMCStoPortalOffsetY()</text><text class="m" x="2.7" y="36">methMCStoPortalOffsetX()</text></g>
<g id="fbMCStoACSold" transform="translate(1494.6 269.3)"><rect width="67.4" height="39"/><path d="M0 19H67.4M0 22.3H67.4"/><use href="#i" x="6"/><text class="s" x="39.2" y="8">«functionBlock»</text><text class="n" x="39.2" y="14.7">fbMCStoACSold</text><text class="m" x="2.7" y="29.3">methMCStoPortalOffsetY()</text><text class="m" x="2.7" y="36">methMCStoPortalOffsetX()</text></g>
<g id="fcPortalPosSchieben" transform="translate(1579.5 276)"><rect width="76.3" height="26"/><path d="M0 18.3H76.3M0 21.7H76.3"/><use href="#i" x="6"/><text class="s" x="43.7" y="8">«function»</text><text class="n" x="43.7" y="14.7">fcPortalPosSchieben</text></g>
<g id="fbWagemodulArm" transform="translate(1672.8 269.3)"><rect width="68.7" height="39"/><path d="M0 19H68.7M0 22.3H68.7"/><use href="#i" x="6"/><text class="s" x="39.9" y="8">«functionBlock»</text><text class="n" x="39.9" y="14.7">fbWagemodulArm</text><text class="m" x="2.7" y="29.3">methWinkelZy()</text><text class="m" x="2.7" y="36">methMomentTelesp()</text></g>
<g id="fcBereichResizeGreifer" transform="translate(1758.5 276)"><rect width="84.4" height="26"/><path d="M0 18.3H84.4M0 21.7H84.4"/><use href="#i" x="6"/><text class="s" x="47.7" y="8">«function»</text><text class="n" x="47.7" y="14.7">fcBereichResizeGreifer</text></g>
<g id="fbRotatorPos" transform="translate(1860.2 276)"><rect width="53.1" height="26"/><path d="M0 18.3H53.1M0 21.7H53.1"/><use href="#i" x="6"/><text class="s" x="32" y="8">«functionBlock»</text><text class="n" x="32" y="14.7">fbRotatorPos</text></g>
<g id="fbRotatorPos_1" transform="translate(1929.9 276)"><rect width="61.2" height="26"/><path d="M0 18.3H61.2M0 21.7H61.2"/><use href="#i" x="6"/><text class="s" x="36" y="8">«functionBlock»</text><text class="n" x="36" y="14.7">fbRotatorPos_1</text></g>
<g id="fbStellwertStop" transform="translate(2007.6 276)"><rect width="61.2" height="26"/><path d="M0 18.3H61.2M0 21.7H61.2"/><use href="#i" x="6"/><text class="s" x="36" y="8">«functionBlock»</text><text class="n" x="36" y="14.7">fbStellwertStop</text></g>
<g id="fbAchsPositionierer" transform="translate(2085.2 276)"><rect width="73.8" height="26"/><path d="M0 18.3H73.8M0 21.7H73.8"/><use href="#i" x="6"/><text class="s" x="42.4" y="8">«functionBlock»</text><text class="n" x="42.4" y="14.7">fbAchsPositionierer</text></g>
<g id="fbGreiferPos" transform="translate(2175.9 276)"><rect width="53.1" height="26"/><path d="M0 18.3H53.1M0 21.7H53.1"/><use href="#i" x="6"/><text class="s" x="32" y="8">«functionBlock»</text><text class="n" x="32" y="14.7">fbGreiferPos</text></g>
<g id="fbGreiferPosOld" transform="translate(2245.5 276)"><rect width="62.5" height="26"/><path d="M0 18.3H62.5M0 21.7H62.5"/><use href="#i" x="6"/><text class="s" x="36.7" y="8">«functionBlock»</text><text class="n" x="36.7" y="14.7">fbGreiferPosOld</text></g>
<g id="fcPpRegler" transform="translate(2325 276)"><rect width="46.4" height="26"/><path d="M0 18.3H46.4M0 21.7H46.4"/><use href="#i" x="6"/><text class="s" x="28.7" y="8">«function»</text><text class="n" x="28.7" y="14.7">fcPpRegler</text></g>
<g id="fcKennlinieOverride" transform="translate(2387.9 276)"><rect width="75.4" height="26"/><path d="M0 18.3H75.4M0 21.7H75.4"/><use href="#i" x="6"/><text class="s" x="43.2" y="8">«function»</text><text class="n" x="43.2" y="14.7">fcKennlinieOverride</text></g>
<g id="fbDeadZoneREAL" transform="translate(2480.3 276)"><rect width="65.6" height="26"/><path d="M0 18.3H65.6M0 21.7H65.6"/><use href="#i" x="6"/><text class="s" x="38.3" y="8">«functionBlock»</text><text class="n" x="38.3" y="14.7">fbDeadZoneREAL</text></g>
<g id="fbSkalieren2P" transform="translate(2562.9 276)"><rect width="56.7" height="26"/><path d="M0 18.3H56.7M0 21.7H56.7"/><use href="#i" x="6"/><text class="s" x="33.9" y="8">«functionBlock»</text><text class="n" x="33.9" y="14.7">fbSkalieren2P</text></g>
<g id="fcInterpolieren" transform="translate(2636.1 276)"><rect width="60.7" height="26"/><path d="M0 18.3H60.7M0 21.7H60.7"/><use href="#i" x="6"/><text class="s" x="35.9" y="8">«function»</text><text class="n" x="35.9" y="14.7">fcInterpolieren</text></g>
<g id="fcSkalieren2P" transform="translate(2713.4 276)"><rect width="56.7" height="26"/><path d="M0 18.3H56.7M0 21.7H56.7"/><use href="#i" x="6"/><text class="s" x="33.9" y="8">«function»</text><text class="n" x="33.9" y="14.7">fcSkalieren2P</text></g>
<g id="fcUserBereichToBereich" transform="translate(2786.6 276)"><rect width="88.4" height="26"/><path d="M0 18.3H88.4M0 21.7H88.4"/><use href="#i" x="6"/><text class="s" x="49.7" y="8">«function»</text><text class="n" x="49.7" y="14.7">fcUserBereichToBereich</text></g>
<g id="fcACStoMCS" transform="translate(2891.5 276)"><rect width="49.1" height="26"/><path d="M0 18.3H49.1M0 21.7H49.1"/><use href="#i" x="6"/><text class="s" x="30" y="8">«function»</text><text class="n" x="30" y="14.7">fcACStoMCS</text></g>
<g id="fbMcsMoveLinearPortalFix" transform="translate(3025.9 276)"><rect width="95.5" height="26"/><path d="M0 18.3H95.5M0 21.7H95.5"/><use href="#i" x="6"/><text class="s" x="53.3" y="8">«functionBlock»</text><text class="n" x="53.3" y="14.7">fbMcsMoveLinearPortalFix</text></g>
<g id="fbMcsMoveLinearPortalFixOld" transform="translate(3137.9 276)"><rect width="105.8" height="26"/><path d="M0 18.3H105.8M0 21.7H105.8"/><use href="#i" x="6"/><text class="s" x="58.4" y="8">«functionBlock»</text><text class="n" x="58.4" y="14.7">fbMcsMoveLinearPortalFixOld</text></g>
<g id="fbMoveDirectAbsoluteCraneMCSV1" transform="translate(3260.2 276)"><rect width="120.5" height="26"/><path d="M0 18.3H120.5M0 21.7H120.5"/><use href="#i" x="6"/><text class="s" x="65.8" y="8">«functionBlock»</text><text class="n" x="65.8" y="14.7">fbMoveDirectAbsoluteCraneMCSV1</text></g>
<g id="fcAuftragsZaehlen" transform="translate(3632.7 276)"><rect width="71.9" height="26"/><path d="M0 18.3H71.9M0 21.7H71.9"/><use href="#i" x="6"/><text class="s" x="41.5" y="8">«function»</text><text class="n" x="41.5" y="14.7">fcAuftragsZaehlen</text></g>

<g id="fbFilterMitteLREAL" transform="translate(5.4 394)"><rect width="70.5" height="26"/><path d="M0 18.3H70.5M0 21.7H70.5"/><use href="#i" x="6"/><text class="s" x="40.8" y="8">«functionBlock»</text><text class="n" x="40.8" y="14.7">fbFilterMitteLREAL</text></g>
<g id="fbBOOL_OUT" transform="translate(92.9 394)"><rect width="51.3" height="26"/><path d="M0 18.3H51.3M0 21.7H51.3"/><use href="#i" x="6"/><text class="s" x="31.2" y="8">«functionBlock»</text><text class="n" x="31.2" y="14.7">fbBOOL_OUT</text></g>
<g id="fbREAL_OUT" transform="translate(161.6 394)"><rect width="50.4" height="26"/><path d="M0 18.3H50.4M0 21.7H50.4"/><use href="#i" x="6"/><text class="s" x="30.7" y="8">«functionBlock»</text><text class="n" x="30.7" y="14.7">fbREAL_OUT</text></g>
<g id="fbAnwahlREAL" transform="translate(229 394)"><rect width="57.1" height="26"/><path d="M0 18.3H57.1M0 21.7H57.1"/><use href="#i" x="6"/><text class="s" x="34" y="8">«functionBlock»</text><text class="n" x="34" y="14.7">fbAnwahlREAL</text></g>
<g id="fbHysterese" transform="translate(302.7 394)"><rect width="51.3" height="26"/><path d="M0 18.3H51.3M0 21.7H51.3"/><use href="#i" x="6"/><text class="s" x="31.2" y="8">«functionBlock»</text><text class="n" x="31.2" y="14.7">fbHysterese</text></g>
<g id="fbSollwertSchalter" transform="translate(370.5 394)"><rect width="71" height="26"/><path d="M0 18.3H71M0 21.7H71"/><use href="#i" x="6"/><text class="s" x="41" y="8">«functionBlock»</text><text class="n" x="41" y="14.7">fbSollwertSchalter</text></g>
<g id="fbSwitchReal" transform="translate(458 394)"><rect width="53.1" height="26"/><path d="M0 18.3H53.1M0 21.7H53.1"/><use href="#i" x="6"/><text class="s" x="32" y="8">«functionBlock»</text><text class="n" x="32" y="14.7">fbSwitchReal</text></g>
<g id="fcExponential" transform="translate(527.2 394)"><rect width="56.2" height="26"/><path d="M0 18.3H56.2M0 21.7H56.2"/><use href="#i" x="6"/><text class="s" x="33.6" y="8">«function»</text><text class="n" x="33.6" y="14.7">fcExponential</text></g>
<g id="fcRichtungSperren" transform="translate(600.4 394)"><rect width="70.5" height="26"/><path d="M0 18.3H70.5M0 21.7H70.5"/><use href="#i" x="6"/><text class="s" x="40.8" y="8">«function»</text><text class="n" x="40.8" y="14.7">fcRichtungSperren</text></g>
<g id="fbDatumUndZeit" transform="translate(687.5 394)"><rect width="63.4" height="26"/><path d="M0 18.3H63.4M0 21.7H63.4"/><use href="#i" x="6"/><text class="s" x="37.2" y="8">«functionBlock»</text><text class="n" x="37.2" y="14.7">fbDatumUndZeit</text></g>
<g id="pgDatumUnZeit" transform="translate(767.9 394)"><rect width="61.2" height="26"/><path d="M0 18.3H61.2M0 21.7H61.2"/><use href="#i" x="6"/><text class="s" x="36" y="8">«program»</text><text class="n" x="36" y="14.7">pgDatumUnZeit</text></g>
<g id="toGrad" transform="translate(1060.2 394)"><rect width="35.3" height="26"/><path d="M0 18.3H35.3M0 21.7H35.3"/><use href="#i" x="6"/><text class="s" x="23.1" y="8">«function»</text><text class="n" x="23.1" y="14.7">toGrad</text></g>
<g id="fcPosSchieben" transform="translate(1112.5 394)"><rect width="58.5" height="26"/><path d="M0 18.3H58.5M0 21.7H58.5"/><use href="#i" x="6"/><text class="s" x="34.7" y="8">«function»</text><text class="n" x="34.7" y="14.7">fcPosSchieben</text></g>
<g id="fcSpeerBereichResizeGreifer" transform="translate(1187.5 394)"><rect width="103.1" height="26"/><path d="M0 18.3H103.1M0 21.7H103.1"/><use href="#i" x="6"/><text class="s" x="57" y="8">«function»</text><text class="n" x="57" y="14.7">fcSpeerBereichResizeGreifer</text></g>
<g id="fbGreiferWinkel" transform="translate(1341.5 394)"><rect width="62.5" height="26"/><path d="M0 18.3H62.5M0 21.7H62.5"/><use href="#i" x="6"/><text class="s" x="36.7" y="8">«functionBlock»</text><text class="n" x="36.7" y="14.7">fbGreiferWinkel</text></g>
<g id="fbPixel" transform="translate(1455.4 387.3)"><rect width="49.1" height="39"/><path d="M0 19H49.1M0 22.3H49.1"/><use href="#i" x="6"/><text class="s" x="30" y="8">«functionBlock»</text><text class="n" x="30" y="14.7">fbPixel</text><text class="m" x="2.7" y="29.3">methCamToMCS()</text><text class="m" x="2.7" y="36">methInBereich()</text></g>
<g id="fcOffsetPortalKin" transform="translate(1589.7 394)"><rect width="66.1" height="26"/><path d="M0 18.3H66.1M0 21.7H66.1"/><use href="#i" x="6"/><text class="s" x="38.5" y="8">«function»</text><text class="n" x="38.5" y="14.7">fcOffsetPortalKin</text></g>
<g id="fbWagemodulTeleskop" transform="translate(1741 394)"><rect width="83.9" height="26"/><path d="M0 18.3H83.9M0 21.7H83.9"/><use href="#i" x="6"/><text class="s" x="47.4" y="8">«functionBlock»</text><text class="n" x="47.4" y="14.7">fbWagemodulTeleskop</text></g>
<g id="fcAbrundenToDINT" transform="translate(1850.4 394)"><rect width="72.3" height="26"/><path d="M0 18.3H72.3M0 21.7H72.3"/><use href="#i" x="6"/><text class="s" x="41.6" y="8">«function»</text><text class="n" x="41.6" y="14.7">fcAbrundenToDINT</text></g>
<g id="fcHyst" transform="translate(2062.5 394)"><rect width="35.3" height="26"/><path d="M0 18.3H35.3M0 21.7H35.3"/><use href="#i" x="6"/><text class="s" x="23.1" y="8">«function»</text><text class="n" x="23.1" y="14.7">fcHyst</text></g>
<g id="ModuloPlusMinus180" transform="translate(2114.3 394)"><rect width="77.7" height="26"/><path d="M0 18.3H77.7M0 21.7H77.7"/><use href="#i" x="6"/><text class="s" x="44.3" y="8">«function»</text><text class="n" x="44.3" y="14.7">ModuloPlusMinus180</text></g>
<g id="fcSkalieren" transform="translate(2445.1 394)"><rect width="48.7" height="26"/><path d="M0 18.3H48.7M0 21.7H48.7"/><use href="#i" x="6"/><text class="s" x="29.8" y="8">«function»</text><text class="n" x="29.8" y="14.7">fcSkalieren</text></g>
<g id="node-row4-x2950" transform="translate(2950 394)"><rect width="50" height="26"/><path d="M0 18.3H50M0 21.7H50"/><use href="#i" x="6"/></g>
<g id="node-row4-x3395" transform="translate(3395 394)"><rect width="46" height="26"/><path d="M0 18.3H46M0 21.7H46"/><use href="#i" x="6"/></g>

<g id="fbPufferRestart" transform="translate(9.8 491.3)"><rect width="61.6" height="26"/><path d="M0 18.3H61.6M0 21.7H61.6"/><use href="#i" x="6"/><text class="s" x="36.3" y="8">«functionBlock»</text><text class="n" x="36.3" y="14.7">fbPufferRestart</text></g>
<g id="fbAuftragTabelle" transform="translate(87.9 491.3)"><rect width="66.1" height="26"/><path d="M0 18.3H66.1M0 21.7H66.1"/><use href="#i" x="6"/><text class="s" x="38.5" y="8">«functionBlock»</text><text class="n" x="38.5" y="14.7">fbAuftragTabelle</text></g>
<g id="fbAuftragTabelleV2" transform="translate(170.1 491.3)"><rect width="74.1" height="26"/><path d="M0 18.3H74.1M0 21.7H74.1"/><use href="#i" x="6"/><text class="s" x="42.5" y="8">«functionBlock»</text><text class="n" x="42.5" y="14.7">fbAuftragTabelleV2</text></g>
<g id="fbAblaufSteuerung_kaem_1" transform="translate(260.2 485)"><rect width="101.3" height="39"/><path d="M0 19H101.3M0 22.3H101.3"/><use href="#i" x="6"/><text class="s" x="56.2" y="8">«functionBlock»</text><text class="n" x="56.2" y="14.7">fbAblaufSteuerung_kaem_1</text><text class="m" x="2.7" y="29.3">methReadAblauf()</text><text class="m" x="2.7" y="36">methWriteAblauf()</text></g>
<g id="fbAnwahlAuftrag" transform="translate(378.1 472)"><rect width="65.6" height="65.6"/><path d="M0 19H65.6M0 22.3H65.6"/><use href="#i" x="6"/><text class="s" x="38.3" y="8">«functionBlock»</text><text class="n" x="38.3" y="14.7">fbAnwahlAuftrag</text><text class="m" x="2.7" y="29.3">Tippen()</text><text class="m" x="2.7" y="36">HomePos()</text><text class="m" x="2.7" y="42.6">Auslagern()</text><text class="m" x="2.7" y="49.3">Einlagern()</text><text class="m" x="2.7" y="56">StartButton()</text><text class="m" x="2.7" y="62.6">Umstocken()</text></g>
<g id="fbAuftAuslagern" transform="translate(460.2 485)"><rect width="64.3" height="39"/><path d="M0 19H64.3M0 22.3H64.3"/><use href="#i" x="6"/><text class="s" x="37.6" y="8">«functionBlock»</text><text class="n" x="37.6" y="14.7">fbAuftAuslagern</text><text class="m" x="2.7" y="29.3">methSort()</text><text class="m" x="2.7" y="36">methResZeit()</text></g>
<g id="fbAuslagerPuffer" transform="translate(541 491.3)"><rect width="66.5" height="26"/><path d="M0 18.3H66.5M0 21.7H66.5"/><use href="#i" x="6"/><text class="s" x="38.7" y="8">«functionBlock»</text><text class="n" x="38.7" y="14.7">fbAuslagerPuffer</text></g>
<g id="fbJobPuffer" transform="translate(624 485)"><rect width="49.1" height="39"/><path d="M0 19H49.1M0 22.3H49.1"/><use href="#i" x="6"/><text class="s" x="30" y="8">«functionBlock»</text><text class="n" x="30" y="14.7">fbJobPuffer</text><text class="m" x="2.7" y="29.3">methLoeschen()</text><text class="m" x="2.7" y="36">methLeereZeile()</text></g>
<g id="fbJob" transform="translate(689.2 465)"><rect width="49.2" height="79"/><path d="M0 19H49.2M0 22.3H49.2"/><use href="#i" x="6"/><text class="s" x="30" y="8">«functionBlock»</text><text class="n" x="30" y="14.7">fbJob</text><text class="m" x="2.7" y="29.3">visuBearbeiten()</text><text class="m" x="2.7" y="36">visuNewJob()</text><text class="m" x="2.7" y="42.6">visuAbbrechen()</text><text class="m" x="2.7" y="49.3">visuJobSave()</text><text class="m" x="2.7" y="56">methLeereZeile()</text><text class="m" x="2.7" y="62.6">methLoeschen()</text><text class="m" x="2.7" y="69.3">methInit()</text><text class="m" x="2.7" y="76">methNamein()</text></g>
<g id="fbRezept" transform="translate(755.4 455)"><rect width="57.6" height="99"/><path d="M0 19H57.6M0 22.3H57.6"/><use href="#i" x="10"/><text class="s" x="34.3" y="8">«functionBlock»</text><text class="n" x="34.3" y="14.7">fbRezept</text><text class="m" x="2.7" y="29.3">visuRezeptEnde()</text><text class="m" x="2.7" y="36">visuNewRezept()</text><text class="m" x="2.7" y="42.6">visuBearbeiten()</text><text class="m" x="2.7" y="49.3">visuAbbrechen()</text><text class="m" x="2.7" y="56">visuRezeptZutaten()</text><text class="m" x="2.7" y="62.6">methLoeschen()</text><text class="m" x="2.7" y="69.3">methInit()</text><text class="m" x="2.7" y="76">methLeereZeileZutat()</text><text class="m" x="2.7" y="82.6">methLeereZeile()</text><text class="m" x="2.7" y="89.3">methNamein()</text><text class="m" x="2.7" y="96">methLoeschenZutat()</text></g>
<g id="fbProdukt" transform="translate(829.5 465)"><rect width="49.1" height="79"/><path d="M0 19H49.1M0 22.3H49.1"/><use href="#i" x="6"/><text class="s" x="30" y="8">«functionBlock»</text><text class="n" x="30" y="14.7">fbProdukt</text><text class="m" x="2.7" y="29.3">methLoeschen()</text><text class="m" x="2.7" y="36">methInit()</text><text class="m" x="2.7" y="42.6">methLeereZeile()</text><text class="m" x="2.7" y="49.3">visuNewProdukt()</text><text class="m" x="2.7" y="56">visuProduktEnde()</text><text class="m" x="2.7" y="62.6">visuBearbeiten()</text><text class="m" x="2.7" y="69.3">visuAbbrechen()</text><text class="m" x="2.7" y="76">methNamein()</text></g>
<g id="toRad" transform="translate(1462.5 491.3)"><rect width="35.7" height="26"/><path d="M0 18.3H35.7M0 21.7H35.7"/><use href="#i" x="6"/><text class="s" x="23.3" y="8">«function»</text><text class="n" x="23.3" y="14.7">toRad</text></g>

<g id="fbSensorAuslagern" transform="translate(4.5 589.3)"><rect width="72.3" height="26"/><path d="M0 18.3H72.3M0 21.7H72.3"/><use href="#i" x="6"/><text class="s" x="41.6" y="8">«functionBlock»</text><text class="n" x="41.6" y="14.7">fbSensorAuslagern</text></g>
<g id="fbAbgreifenNachGewicht" transform="translate(93.3 589.3)"><rect width="90.6" height="26"/><path d="M0 18.3H90.6M0 21.7H90.6"/><use href="#i" x="6"/><text class="s" x="50.8" y="8">«functionBlock»</text><text class="n" x="50.8" y="14.7">fbAbgreifenNachGewicht</text></g>
<g id="fbEinlagerRezept" transform="translate(200.4 589.3)"><rect width="66.5" height="26"/><path d="M0 18.3H66.5M0 21.7H66.5"/><use href="#i" x="6"/><text class="s" x="38.7" y="8">«functionBlock»</text><text class="n" x="38.7" y="14.7">fbEinlagerRezept</text></g>
<g id="fbSafeKranbereich" transform="translate(283.5 589.3)"><rect width="71.4" height="26"/><path d="M0 18.3H71.4M0 21.7H71.4"/><use href="#i" x="6"/><text class="s" x="41.2" y="8">«functionBlock»</text><text class="n" x="41.2" y="14.7">fbSafeKranbereich</text></g>
<g id="fbTorOeffnen" transform="translate(371.4 589.3)"><rect width="54.5" height="26"/><path d="M0 18.3H54.5M0 21.7H54.5"/><use href="#i" x="6"/><text class="s" x="32.7" y="8">«functionBlock»</text><text class="n" x="32.7" y="14.7">fbTorOeffnen</text></g>
<g id="fbTorSteuerung" transform="translate(442.4 589.3)"><rect width="62.5" height="26"/><path d="M0 18.3H62.5M0 21.7H62.5"/><use href="#i" x="6"/><text class="s" x="36.7" y="8">«functionBlock»</text><text class="n" x="36.7" y="14.7">fbTorSteuerung</text></g>
<g id="fbUmstockenRezept" transform="translate(521 589.3)"><rect width="75.4" height="26"/><path d="M0 18.3H75.4M0 21.7H75.4"/><use href="#i" x="6"/><text class="s" x="43.2" y="8">«functionBlock»</text><text class="n" x="43.2" y="14.7">fbUmstockenRezept</text></g>
<g id="fbBereich" transform="translate(612.9 583)"><rect width="62.9" height="39"/><path d="M0 19H62.9M0 22.3H62.9"/><use href="#i" x="12"/><text class="s" x="37" y="8">«functionBlock»</text><text class="n" x="37" y="14.7">fbBereich</text><text class="m" x="2.7" y="29.3">methLeereZeileSpeerb()</text><text class="m" x="2.7" y="36">methLeereZeile()</text></g>
<g id="fbSpeerBereich" transform="translate(691.9 583)"><rect width="61.7" height="39"/><path d="M0 19H61.7M0 22.3H61.7"/><use href="#i" x="6"/><text class="s" x="36.3" y="8">«functionBlock»</text><text class="n" x="36.3" y="14.7">fbSpeerBereich</text><text class="m" x="2.7" y="29.3">methLeereZeile()</text><text class="m" x="2.7" y="36">methNamein()</text></g>
<g id="fbRasterPunkte" transform="translate(770.1 589.3)"><rect width="60.7" height="26"/><path d="M0 18.3H60.7M0 21.7H60.7"/><use href="#i" x="6"/><text class="s" x="35.9" y="8">«functionBlock»</text><text class="n" x="35.9" y="14.7">fbRasterPunkte</text></g>
<g id="fbRasterPunkteOld" transform="translate(847.8 589.3)"><rect width="71.4" height="26"/><path d="M0 18.3H71.4M0 21.7H71.4"/><use href="#i" x="6"/><text class="s" x="41.2" y="8">«functionBlock»</text><text class="n" x="41.2" y="14.7">fbRasterPunkteOld</text></g>

<g id="fbGreiferSchuetteln" transform="translate(3.6 651)"><rect width="74.5" height="26"/><path d="M0 18.3H74.5M0 21.7H74.5"/><use href="#i" x="6"/><text class="s" x="42.8" y="8">«functionBlock»</text><text class="n" x="42.8" y="14.7">fbGreiferSchuetteln</text></g>
<g id="fbPositionierer" transform="translate(95.1 651)"><rect width="59.8" height="26"/><path d="M0 18.3H59.8M0 21.7H59.8"/><use href="#i" x="6"/><text class="s" x="35.4" y="8">«functionBlock»</text><text class="n" x="35.4" y="14.7">fbPositionierer</text></g>
<g id="fbGreiferAuswahl" transform="translate(171.4 651)"><rect width="67.4" height="26"/><path d="M0 18.3H67.4M0 21.7H67.4"/><use href="#i" x="6"/><text class="s" x="39.2" y="8">«functionBlock»</text><text class="n" x="39.2" y="14.7">fbGreiferAuswahl</text></g>
<g id="fbDurchschnittHeu" transform="translate(255.3 651)"><rect width="70.5" height="26"/><path d="M0 18.3H70.5M0 21.7H70.5"/><use href="#i" x="6"/><text class="s" x="40.8" y="8">«functionBlock»</text><text class="n" x="40.8" y="14.7">fbDurchschnittHeu</text></g>
<g id="fbTestImage" transform="translate(342.8 651)"><rect width="53.1" height="26"/><path d="M0 18.3H53.1M0 21.7H53.1"/><use href="#i" x="6"/><text class="s" x="32" y="8">«functionBlock»</text><text class="n" x="32" y="14.7">fbTestImage</text></g>
<g id="fbWatchDog" transform="translate(412.5 651)"><rect width="50.4" height="26"/><path d="M0 18.3H50.4M0 21.7H50.4"/><use href="#i" x="6"/><text class="s" x="30.7" y="8">«functionBlock»</text><text class="n" x="30.7" y="14.7">fbWatchDog</text></g>
<g id="fcKranPos" transform="translate(479.9 651)"><rect width="44.2" height="26"/><path d="M0 18.3H44.2M0 21.7H44.2"/><use href="#i" x="6"/><text class="s" x="27.6" y="8">«function»</text><text class="n" x="27.6" y="14.7">fcKranPos</text></g>
<g id="fbCamKommunikation" transform="translate(541 651)"><rect width="80.8" height="26"/><path d="M0 18.3H80.8M0 21.7H80.8"/><use href="#i" x="6"/><text class="s" x="45.9" y="8">«functionBlock»</text><text class="n" x="45.9" y="14.7">fbCamKommunikation</text></g>
<g id="fbRasterPixel" transform="translate(638.8 651)"><rect width="54.9" height="26"/><path d="M0 18.3H54.9M0 21.7H54.9"/><use href="#i" x="6"/><text class="s" x="33" y="8">«functionBlock»</text><text class="n" x="33" y="14.7">fbRasterPixel</text></g>
<g id="fbRaster3D" transform="translate(709.8 651)"><rect width="49.6" height="26"/><path d="M0 18.3H49.6M0 21.7H49.6"/><use href="#i" x="6"/><text class="s" x="30.3" y="8">«functionBlock»</text><text class="n" x="30.3" y="14.7">fbRaster3D</text></g>
<g id="SMC_POS_REF_ToPosRef" transform="translate(775.9 651)"><rect width="89.7" height="26"/><path d="M0 18.3H89.7M0 21.7H89.7"/><use href="#i" x="6"/><text class="s" x="50.4" y="8">«function»</text><text class="n" x="50.4" y="14.7">SMC_POS_REF_ToPosRef</text></g>

<g id="fbMcsMoveLinear" transform="translate(7.1 705.3)"><rect width="67.4" height="26"/><path d="M0 18.3H67.4M0 21.7H67.4"/><use href="#i" x="6"/><text class="s" x="39.2" y="8">«functionBlock»</text><text class="n" x="39.2" y="14.7">fbMcsMoveLinear</text></g>
<g id="fbMcsMoveLinearOld" transform="translate(91.1 705.3)"><rect width="76.8" height="26"/><path d="M0 18.3H76.8M0 21.7H76.8"/><use href="#i" x="6"/><text class="s" x="43.9" y="8">«functionBlock»</text><text class="n" x="43.9" y="14.7">fbMcsMoveLinearOld</text></g>
<g id="fbMcsPortalDrehenLinear" transform="translate(184.8 705.3)"><rect width="92" height="26"/><path d="M0 18.3H92M0 21.7H92"/><use href="#i" x="6"/><text class="s" x="51.5" y="8">«functionBlock»</text><text class="n" x="51.5" y="14.7">fbMcsPortalDrehenLinear</text></g>
<g id="fbAchsgruppeJog2_ACS" transform="translate(293.3 705.3)"><rect width="87" height="26"/><path d="M0 18.3H87M0 21.7H87"/><use href="#i" x="6"/><text class="s" x="49" y="8">«functionBlock»</text><text class="n" x="49" y="14.7">fbAchsgruppeJog2_ACS</text></g>
<g id="fbJogGreifer" transform="translate(396.9 705.3)"><rect width="52.2" height="26"/><path d="M0 18.3H52.2M0 21.7H52.2"/><use href="#i" x="6"/><text class="s" x="31.6" y="8">«functionBlock»</text><text class="n" x="31.6" y="14.7">fbJogGreifer</text></g>
<g id="fbJogHochsteller" transform="translate(465.2 705.3)"><rect width="65.6" height="26"/><path d="M0 18.3H65.6M0 21.7H65.6"/><use href="#i" x="6"/><text class="s" x="38.3" y="8">«functionBlock»</text><text class="n" x="38.3" y="14.7">fbJogHochsteller</text></g>
<g id="fbJogRotator" transform="translate(547.3 705.3)"><rect width="52.7" height="26"/><path d="M0 18.3H52.7M0 21.7H52.7"/><use href="#i" x="6"/><text class="s" x="31.9" y="8">«functionBlock»</text><text class="n" x="31.9" y="14.7">fbJogRotator</text></g>
<g id="fbParameterGrupJog2_ACS" transform="translate(616.9 705.3)"><rect width="97.8" height="26"/><path d="M0 18.3H97.8M0 21.7H97.8"/><use href="#i" x="6"/><text class="s" x="54.4" y="8">«functionBlock»</text><text class="n" x="54.4" y="14.7">fbParameterGrupJog2_ACS</text></g>
<g id="fbAchsgruppeJog2" transform="translate(730.8 705.3)"><rect width="71" height="26"/><path d="M0 18.3H71M0 21.7H71"/><use href="#i" x="6"/><text class="s" x="41" y="8">«functionBlock»</text><text class="n" x="41" y="14.7">fbAchsgruppeJog2</text></g>
<g id="fbGroupJog2Beschriftung" transform="translate(818.3 705.3)"><rect width="92.4" height="26"/><path d="M0 18.3H92.4M0 21.7H92.4"/><use href="#i" x="6"/><text class="s" x="51.7" y="8">«functionBlock»</text><text class="n" x="51.7" y="14.7">fbGroupJog2Beschriftung</text></g>
<g id="fbKlinConfigAutoChange" transform="translate(926.8 705.3)"><rect width="88.8" height="26"/><path d="M0 18.3H88.8M0 21.7H88.8"/><use href="#i" x="6"/><text class="s" x="49.9" y="8">«functionBlock»</text><text class="n" x="49.9" y="14.7">fbKlinConfigAutoChange</text></g>

<g id="fbMessung" transform="translate(16.5 780)"><rect width="49.1" height="26"/><path d="M0 18.3H49.1M0 21.7H49.1"/><use href="#i" x="6"/><text class="s" x="30" y="8">«functionBlock»</text><text class="n" x="30" y="14.7">fbMessung</text></g>
<g id="fbWagemodulBase" transform="translate(82.1 770)"><rect width="71" height="45.6"/><path d="M0 19H71M0 22.3H71"/><use href="#i" x="6"/><text class="s" x="41" y="8">«functionBlock»</text><text class="n" x="41" y="14.7">fbWagemodulBase</text><text class="m" x="2.7" y="29.3">methActKraftZy()</text><text class="m" x="2.7" y="36">methKinematik()</text><text class="m" x="2.7" y="42.6">methWinkelArm()</text></g>
<g id="fbWagemodulBaseOld" transform="translate(169.6 760)"><rect width="81.2" height="65.6"/><path d="M0 19H81.2M0 22.3H81.2"/><use href="#i" x="6"/><text class="s" x="46.1" y="8">«functionBlock»</text><text class="n" x="46.1" y="14.7">fbWagemodulBaseOld</text><text class="m" x="2.7" y="29.3">methActKraftZy()</text><text class="m" x="2.7" y="36">methWinkelArm()</text><text class="m" x="2.7" y="42.6">toRad()</text><text class="m" x="2.7" y="49.3">toDeg()</text><text class="m" x="2.7" y="56">methKinematik()</text><text class="m" x="2.7" y="62.6">methWinkelArm_1()</text></g>
<g id="pgWaegen" transform="translate(267.4 780)"><rect width="45.5" height="26"/><path d="M0 18.3H45.5M0 21.7H45.5"/><use href="#i" x="6"/><text class="s" x="28.3" y="8">«program»</text><text class="n" x="28.3" y="14.7">pgWaegen</text></g>
<g id="fbKollisionErkenn" transform="translate(329.4 780)"><rect width="67.9" height="26"/><path d="M0 18.3H67.9M0 21.7H67.9"/><use href="#i" x="6"/><text class="s" x="39.4" y="8">«functionBlock»</text><text class="n" x="39.4" y="14.7">fbKollisionErkenn</text></g>
<g id="fbAchsgruppeAdmin" transform="translate(413.8 780)"><rect width="76.8" height="26"/><path d="M0 18.3H76.8M0 21.7H76.8"/><use href="#i" x="6"/><text class="s" x="43.9" y="8">«functionBlock»</text><text class="n" x="43.9" y="14.7">fbAchsgruppeAdmin</text></g>
<g id="pgAxisPropeties" transform="translate(507.1 780)"><rect width="63.8" height="26"/><path d="M0 18.3H63.8M0 21.7H63.8"/><use href="#i" x="6"/><text class="s" x="37.4" y="8">«program»</text><text class="n" x="37.4" y="14.7">pgAxisPropeties</text></g>
<g id="fbAchsgruppeAllPos" transform="translate(587.5 780)"><rect width="75.4" height="26"/><path d="M0 18.3H75.4M0 21.7H75.4"/><use href="#i" x="6"/><text class="s" x="43.2" y="8">«functionBlock»</text><text class="n" x="43.2" y="14.7">fbAchsgruppeAllPos</text></g>
<g id="fcPickPosRef" transform="translate(679.9 780)"><rect width="53.1" height="26"/><path d="M0 18.3H53.1M0 21.7H53.1"/><use href="#i" x="6"/><text class="s" x="32" y="8">«function»</text><text class="n" x="32" y="14.7">fcPickPosRef</text></g>
<g id="fcPickPosV" transform="translate(749.6 780)"><rect width="46.9" height="26"/><path d="M0 18.3H46.9M0 21.7H46.9"/><use href="#i" x="6"/><text class="s" x="29" y="8">«function»</text><text class="n" x="29" y="14.7">fcPickPosV</text></g>
<g id="fbOverride" transform="translate(812.9 780)"><rect width="49.1" height="26"/><path d="M0 18.3H49.1M0 21.7H49.1"/><use href="#i" x="6"/><text class="s" x="30" y="8">«functionBlock»</text><text class="n" x="30" y="14.7">fbOverride</text></g>

<g id="Debug_BusTask" transform="translate(8.9 854.3)"><rect width="62.9" height="26"/><path d="M0 18.3H62.9M0 21.7H62.9"/><use href="#i" x="6"/><text class="s" x="37" y="8">«program»</text><text class="n" x="37" y="14.7">Debug_BusTask</text></g>
<g id="TuneCP_PRG" transform="translate(88.4 854.3)"><rect width="52.7" height="26"/><path d="M0 18.3H52.7M0 21.7H52.7"/><use href="#i" x="6"/><text class="s" x="31.9" y="8">«program»</text><text class="n" x="31.9" y="14.7">TuneCP_PRG</text></g>
<g id="fbAchseAdmin" transform="translate(157.1 854.3)"><rect width="58" height="26"/><path d="M0 18.3H58M0 21.7H58"/><use href="#i" x="6"/><text class="s" x="34.5" y="8">«functionBlock»</text><text class="n" x="34.5" y="14.7">fbAchseAdmin</text></g>
<g id="fbAchseFBerror" transform="translate(231.2 854.3)"><rect width="62.9" height="26"/><path d="M0 18.3H62.9M0 21.7H62.9"/><use href="#i" x="6"/><text class="s" x="37" y="8">«functionBlock»</text><text class="n" x="37" y="14.7">fbAchseFBerror</text></g>
<g id="fbAchseGear" transform="translate(310.3 854.3)"><rect width="53.6" height="26"/><path d="M0 18.3H53.6M0 21.7H53.6"/><use href="#i" x="6"/><text class="s" x="32.3" y="8">«functionBlock»</text><text class="n" x="32.3" y="14.7">fbAchseGear</text></g>
<g id="fbAchseJogAndStep" transform="translate(379.9 854.3)"><rect width="75" height="26"/><path d="M0 18.3H75M0 21.7H75"/><use href="#i" x="6"/><text class="s" x="43" y="8">«functionBlock»</text><text class="n" x="43" y="14.7">fbAchseJogAndStep</text></g>
<g id="fbAchseVelocity" transform="translate(471 854.3)"><rect width="63.4" height="26"/><path d="M0 18.3H63.4M0 21.7H63.4"/><use href="#i" x="6"/><text class="s" x="37.2" y="8">«functionBlock»</text><text class="n" x="37.2" y="14.7">fbAchseVelocity</text></g>
<g id="fbMoveAbsolut" transform="translate(550.9 854.3)"><rect width="58.9" height="26"/><path d="M0 18.3H58.9M0 21.7H58.9"/><use href="#i" x="6"/><text class="s" x="35" y="8">«functionBlock»</text><text class="n" x="35" y="14.7">fbMoveAbsolut</text></g>
<g id="fcGroupReadStatusToInt" transform="translate(626.8 854.3)"><rect width="89.7" height="26"/><path d="M0 18.3H89.7M0 21.7H89.7"/><use href="#i" x="6"/><text class="s" x="50.4" y="8">«function»</text><text class="n" x="50.4" y="14.7">fcGroupReadStatusToInt</text></g>
</g>
</svg>
